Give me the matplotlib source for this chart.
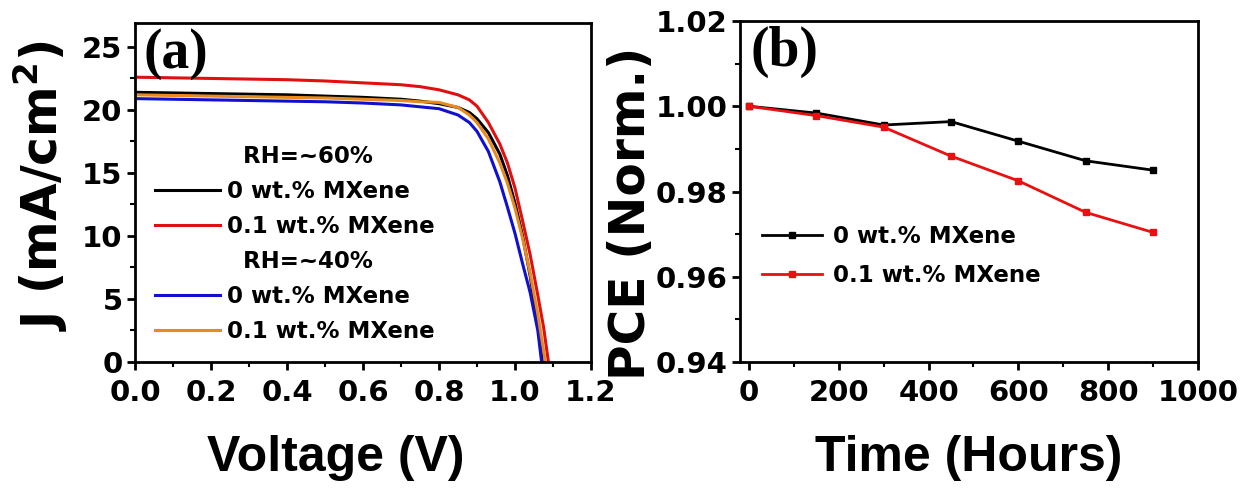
import matplotlib
matplotlib.use("Agg")
import matplotlib.pyplot as plt
from matplotlib.ticker import MultipleLocator, FormatStrFormatter
from matplotlib.lines import Line2D

plt.rcParams['font.family'] = ['DejaVu Sans']
plt.rcParams['font.weight'] = 'bold'
plt.rcParams['mathtext.default'] = 'bf'

# ---- Panel (a) J-V data ----
v_red = [0, 0.1, 0.2, 0.3, 0.4, 0.5, 0.6, 0.7, 0.75, 0.8, 0.85, 0.88, 0.9, 0.93, 0.96, 0.98, 1.0, 1.02, 1.04, 1.06, 1.075, 1.088]
j_red = [22.6, 22.55, 22.5, 22.45, 22.4, 22.3, 22.15, 22.0, 21.85, 21.6, 21.2, 20.8, 20.3, 19.0, 17.3, 15.8, 13.8, 11.2, 8.5, 5.3, 2.8, 0]

v_black = [0, 0.1, 0.2, 0.3, 0.4, 0.5, 0.6, 0.7, 0.75, 0.8, 0.85, 0.88, 0.9, 0.93, 0.96, 0.98, 1.0, 1.02, 1.04, 1.06, 1.072]
j_black = [21.4, 21.35, 21.3, 21.25, 21.2, 21.1, 21.0, 20.85, 20.7, 20.5, 20.2, 19.8, 19.3, 18.2, 16.5, 14.8, 12.6, 10.0, 6.8, 3.0, 0]

v_blue = [0, 0.1, 0.2, 0.3, 0.4, 0.5, 0.6, 0.7, 0.75, 0.8, 0.85, 0.88, 0.9, 0.93, 0.96, 0.98, 1.0, 1.02, 1.04, 1.06, 1.07]
j_blue = [20.9, 20.85, 20.8, 20.75, 20.7, 20.65, 20.55, 20.4, 20.25, 20.1, 19.6, 19.0, 18.3, 16.7, 14.3, 12.3, 10.2, 7.8, 5.5, 2.5, 0]

v_orange = [0, 0.1, 0.2, 0.3, 0.4, 0.5, 0.6, 0.7, 0.75, 0.8, 0.85, 0.88, 0.9, 0.93, 0.96, 0.98, 1.0, 1.02, 1.04, 1.06, 1.08]
j_orange = [21.2, 21.15, 21.1, 21.05, 21.0, 20.95, 20.85, 20.75, 20.65, 20.6, 20.2, 19.6, 19.0, 17.7, 15.8, 14.2, 12.2, 9.8, 7.0, 3.8, 0]

# ---- Panel (b) stability data ----
hours = [0, 150, 300, 450, 600, 750, 900]
pce_0 = [1.000, 0.9984, 0.9956, 0.9964, 0.9918, 0.9872, 0.9850]
pce_01 = [1.000, 0.9978, 0.9951, 0.9883, 0.9825, 0.9751, 0.9704]

W, H = 1254, 490
fig = plt.figure(figsize=(W / 100, H / 100), dpi=100)
axa = fig.add_axes([135 / W, 1 - 362 / H, (591 - 135) / W, (362 - 23) / H])
axb = fig.add_axes([740 / W, 1 - 362 / H, (1198 - 740) / W, (362 - 21) / H])

tick_fs = 21
xlab_fs = 36
ylab_fs = 35
leg_fs = 16.5
xlab_font = ['Liberation Sans', 'DejaVu Sans']
serif = ['Liberation Serif', 'DejaVu Serif']

lw = 2.2
RED, BLUE, ORANGE = '#e01010', '#1010d0', '#e88a20'
axa.plot(v_black, j_black, color='black', lw=lw)
axa.plot(v_red, j_red, color=RED, lw=lw)
axa.plot(v_blue, j_blue, color=BLUE, lw=lw)
axa.plot(v_orange, j_orange, color=ORANGE, lw=lw)
axa.set_xlim(0, 1.2)
axa.set_ylim(0, 26.9)
axa.xaxis.set_major_locator(MultipleLocator(0.2))
axa.xaxis.set_minor_locator(MultipleLocator(0.1))
axa.yaxis.set_major_locator(MultipleLocator(5))
axa.yaxis.set_minor_locator(MultipleLocator(2.5))
axa.xaxis.set_major_formatter(FormatStrFormatter('%.1f'))
axa.set_xlabel('Voltage (V)', fontsize=xlab_fs, fontweight='bold', family=xlab_font)
axa.xaxis.set_label_coords(0.44, -0.215)
axa.set_ylabel('J (mA/cm$^2$)', fontsize=ylab_fs, fontweight='bold')
axa.yaxis.set_label_coords(-0.143, 0.52)
axa.text(0.018, 0.985, '(a)', transform=axa.transAxes, fontsize=40, fontweight='bold',
         family=serif, va='top', ha='left')

handles = [Line2D([], [], color='none'),
           Line2D([], [], color='black', lw=lw),
           Line2D([], [], color=RED, lw=lw),
           Line2D([], [], color='none'),
           Line2D([], [], color=BLUE, lw=lw),
           Line2D([], [], color=ORANGE, lw=lw)]
labels = ['  RH=~60%', '0 wt.% MXene', '0.1 wt.% MXene', '  RH=~40%', '0 wt.% MXene', '0.1 wt.% MXene']
axa.legend(handles, labels, loc='upper left', bbox_to_anchor=(0.044, 0.64), frameon=False,
           prop={'size': leg_fs, 'weight': 'bold'}, handlelength=2.85, handletextpad=0.3,
           labelspacing=0.52, borderaxespad=0, borderpad=0)

axb.plot(hours, pce_0, color='black', lw=2, marker='s', ms=5, label='0 wt.% MXene')
axb.plot(hours, pce_01, color='#e81010', lw=2, marker='s', ms=5, label='0.1 wt.% MXene')
axb.set_xlim(-20, 1000)
axb.set_ylim(0.94, 1.02)
axb.xaxis.set_major_locator(MultipleLocator(200))
axb.xaxis.set_minor_locator(MultipleLocator(100))
axb.yaxis.set_major_locator(MultipleLocator(0.02))
axb.yaxis.set_minor_locator(MultipleLocator(0.01))
axb.yaxis.set_major_formatter(FormatStrFormatter('%.2f'))
axb.set_xlabel('Time (Hours)', fontsize=xlab_fs, fontweight='bold', family=xlab_font)
axb.xaxis.set_label_coords(0.5, -0.215)
axb.set_ylabel('PCE (Norm.)', fontsize=ylab_fs, fontweight='bold')
axb.yaxis.set_label_coords(-0.185, 0.435)
axb.text(0.022, 0.985, '(b)', transform=axb.transAxes, fontsize=40, fontweight='bold',
         family=serif, va='top', ha='left')
axb.legend(loc='upper left', bbox_to_anchor=(0.048, 0.403), frameon=False,
           prop={'size': leg_fs, 'weight': 'bold'}, handlelength=2.6, handletextpad=0.48,
           labelspacing=0.72, borderaxespad=0, borderpad=0)

for ax in (axa, axb):
    for s in ax.spines.values():
        s.set_linewidth(2)
    ax.tick_params(which='major', direction='out', length=6, width=2, labelsize=tick_fs)
    ax.tick_params(which='minor', direction='out', length=3.5, width=1.5)
    ax.tick_params(axis='x', which='major', pad=6)
    ax.tick_params(axis='y', which='major', pad=3)
    for lab in ax.get_xticklabels() + ax.get_yticklabels():
        lab.set_fontweight('bold')

fig.savefig('out.png', dpi=100)
